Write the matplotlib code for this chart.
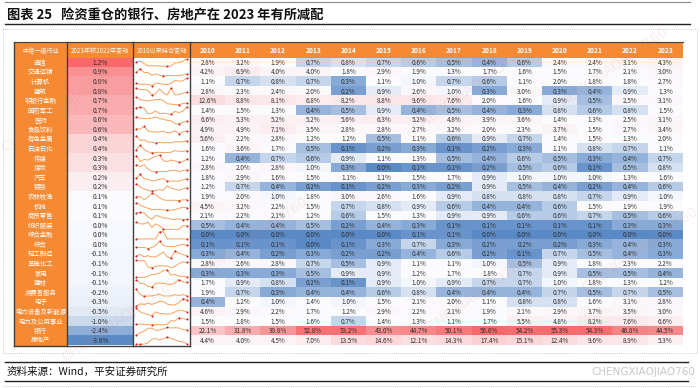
import numpy as np
import matplotlib
matplotlib.use("Agg")
import matplotlib.pyplot as plt
from matplotlib.colors import LinearSegmentedColormap, TwoSlopeNorm

plt.rcParams['font.family'] = ['Noto Sans CJK SC', 'DejaVu Sans']

# ---------------- data ----------------
industries = ["通信", "交通运输", "计算机", "建筑", "非银行金融", "国防军工", "医药", "食品饮料",
              "有色金属", "石油石化", "传媒", "煤炭", "汽车", "钢铁", "农林牧渔", "机械", "商贸零售",
              "纺织服装", "综合金融", "综合", "轻工制造", "基础化工", "家电", "建材", "消费者服务",
              "电子", "电力设备及新能源", "电力及公用事业", "银行", "房地产"]
years = [str(y) for y in range(2010, 2024)]
change_2023 = [1.2, 0.9, 0.8, 0.8, 0.7, 0.7, 0.6, 0.6, 0.4, 0.4, 0.3, 0.3, 0.2, 0.2, 0.1, 0.1, 0.1,
               0.0, 0.0, 0.0, -0.1, -0.1, -0.1, -0.1, -0.2, -0.3, -0.5, -1.0, -2.4, -3.6]
holdings = [
    [2.8, 3.2, 1.9, 0.7, 0.8, 0.7, 0.6, 0.5, 0.4, 0.6, 2.4, 2.4, 3.1, 4.3],
    [4.2, 6.9, 4.0, 4.0, 1.8, 2.9, 1.9, 1.3, 1.7, 1.6, 1.5, 1.7, 2.1, 3.0],
    [1.1, 0.7, 0.8, 0.7, 0.3, 1.1, 1.0, 0.7, 0.6, 1.1, 2.0, 1.8, 1.8, 2.7],
    [2.8, 2.3, 2.4, 2.0, 0.2, 0.9, 2.6, 1.0, 0.3, 3.0, 0.3, 0.4, 0.9, 1.3],
    [12.6, 8.8, 8.1, 6.8, 8.2, 8.8, 9.6, 7.6, 2.0, 1.6, 0.9, 0.5, 2.5, 3.1],
    [1.4, 1.5, 1.3, 0.4, 0.5, 0.9, 0.4, 0.5, 0.4, 0.3, 0.8, 0.6, 0.8, 1.5],
    [6.6, 5.3, 5.2, 5.2, 5.6, 6.3, 5.2, 4.8, 3.9, 3.6, 1.4, 1.3, 2.5, 3.1],
    [4.9, 4.9, 7.1, 3.5, 2.8, 2.8, 2.7, 3.2, 2.0, 2.3, 3.7, 1.5, 2.7, 3.4],
    [5.6, 2.2, 2.8, 1.2, 1.2, 0.5, 1.1, 0.6, 0.9, 0.7, 1.4, 1.5, 1.3, 2.0],
    [1.6, 3.6, 1.7, 0.5, 0.1, 0.2, 0.3, 0.1, 0.2, 0.3, 1.1, 0.8, 0.7, 1.1],
    [1.2, 0.4, 0.7, 0.6, 0.9, 1.1, 1.3, 0.5, 0.4, 0.6, 0.5, 0.3, 0.4, 0.7],
    [2.8, 2.0, 2.8, 1.0, 0.3, 0.0, 0.1, 0.1, 0.2, 0.5, 0.6, 0.1, 0.5, 0.8],
    [1.8, 2.9, 1.6, 1.5, 1.1, 1.1, 1.5, 1.7, 0.9, 1.0, 1.0, 1.0, 1.3, 1.6],
    [1.2, 0.7, 0.4, 0.2, 0.1, 0.2, 0.3, 0.2, 0.9, 0.5, 0.4, 0.2, 0.4, 0.6],
    [1.9, 2.0, 1.0, 1.8, 3.0, 2.6, 1.6, 0.9, 0.8, 0.8, 0.8, 0.7, 0.9, 1.0],
    [4.5, 3.2, 2.2, 1.5, 0.7, 0.8, 0.9, 0.6, 0.4, 0.4, 0.6, 1.5, 1.9, 1.9],
    [2.1, 2.2, 2.1, 1.2, 0.6, 1.5, 1.3, 0.9, 0.9, 0.6, 0.6, 0.7, 0.5, 0.6],
    [0.5, 0.4, 0.4, 0.5, 0.2, 0.4, 0.3, 0.1, 0.1, 0.1, 0.1, 0.1, 0.3, 0.3],
    [0.0, 0.0, 0.0, 0.0, 0.0, 0.0, 0.1, 0.1, 0.0, 0.0, 0.0, 0.0, 0.0, 0.0],
    [0.1, 0.1, 0.1, 0.0, 0.1, 0.3, 0.7, 0.3, 0.2, 0.2, 0.2, 0.3, 0.4, 0.3],
    [0.3, 0.4, 0.2, 0.3, 0.2, 0.2, 0.4, 0.6, 0.2, 0.1, 0.7, 0.5, 0.4, 0.3],
    [2.8, 2.6, 2.8, 0.7, 0.5, 0.9, 1.1, 1.1, 1.0, 0.5, 0.9, 1.8, 2.3, 2.2],
    [0.3, 0.3, 0.3, 0.5, 0.9, 0.9, 1.2, 1.7, 1.8, 0.7, 0.9, 0.5, 0.5, 0.4],
    [1.7, 0.9, 0.8, 0.2, 0.1, 0.9, 1.0, 0.9, 0.7, 0.7, 1.0, 1.8, 1.3, 1.2],
    [1.9, 0.7, 0.3, 0.4, 0.4, 0.6, 0.8, 0.4, 0.4, 0.4, 0.7, 0.5, 0.7, 0.5],
    [0.4, 1.2, 1.0, 1.4, 1.0, 1.5, 2.1, 2.0, 1.1, 0.8, 0.8, 1.6, 3.1, 2.8],
    [4.6, 2.9, 2.2, 1.7, 1.2, 2.9, 2.2, 2.1, 1.9, 2.1, 2.9, 3.7, 3.5, 3.0],
    [1.5, 1.8, 1.5, 1.6, 0.7, 1.4, 1.3, 1.1, 1.7, 5.5, 4.8, 8.2, 7.6, 6.6],
    [22.1, 31.8, 39.8, 52.8, 53.2, 43.0, 44.7, 50.1, 56.6, 54.2, 55.3, 54.3, 46.8, 44.5],
    [4.4, 4.0, 4.5, 7.0, 13.5, 14.6, 12.1, 14.3, 17.4, 15.1, 12.4, 9.6, 8.9, 5.3],
]
header_labels = ["中信一级行业", "2023年较2022年变动", "2010以来持仓变动"]
title = "图表 25   险资重仓的银行、房地产在 2023 年有所减配"
source = "资料来源：Wind，平安证券研究所"

# ---------------- style ----------------
ORANGE = "#F58A33"
BORDER = "#3F3F3F"
TXT = "#303030"
cmap = LinearSegmentedColormap.from_list("rwb", ["#5A8AC6", "#FCFCFF", "#F8696B"])

W, H = 700, 388
fig = plt.figure(figsize=(7, 3.88), dpi=100)
fig.patch.set_facecolor("white")


def add_ax(x0, y0, x1, y1, **kw):
    return fig.add_axes([x0 / W, 1 - y1 / H, (x1 - x0) / W, (y1 - y0) / H], **kw)


# layout (pixels)
X_C1, X_C2, X_C3, X_Y0, X_Y1 = 14, 67, 133, 190, 683
Y_H0, Y_H1, Y_B = 42, 58, 345.5
n = len(industries)
vals = np.array(holdings)
chg = np.array(change_2023)

# base axes (page)
base = add_ax(0, 0, W, H)
base.set_xlim(0, W)
base.set_ylim(H, 0)
base.axis("off")
base.text(7, 15, title, fontsize=9.5, fontweight="bold", va="center", ha="left", color="#111111")
base.plot([5, 690], [24, 24], color="#222222", lw=1.0)
base.plot([5, 690], [1.5, 1.5], color="#888888", lw=0.8)
base.plot([3, 3, 697, 697, 3], [29, 353, 353, 29, 29], color="#BBBBBB", lw=0.6, ls=(0, (1, 1.5)))
base.plot([3, 697], [386, 386], color="#BBBBBB", lw=0.6, ls=(0, (1, 1.5)))
base.plot([5, 688], [362, 362], color="#222222", lw=1.0)
base.plot([5, 688], [381, 381], color="#222222", lw=1.0)
base.text(7, 371.5, source, fontsize=7.6, style="italic", va="center", ha="left", color="#111111")
base.text(695, 372, "CHENGXIAOJIAO760", fontsize=7.5, va="center", ha="right", color="#C8C8C8",
          family="DejaVu Sans")

# year heatmap
norm_y = TwoSlopeNorm(vmin=vals.min(), vcenter=np.percentile(vals, 50), vmax=vals.max())
ax_y = add_ax(X_Y0, Y_H1, X_Y1, Y_B)
ax_y.imshow(vals, cmap=cmap, norm=norm_y, aspect="auto", interpolation="nearest")
for i in range(n):
    for j in range(len(years)):
        ax_y.text(j, i, f"{vals[i, j]:.1f}%", ha="center", va="center", fontsize=4.6, color=TXT)
ax_y.axis("off")

# year header
ax_hy = add_ax(X_Y0, Y_H0, X_Y1, Y_H1)
ax_hy.set_xlim(-0.5, len(years) - 0.5)
ax_hy.set_ylim(0, 1)
ax_hy.set_facecolor(ORANGE)
for j, y in enumerate(years):
    ax_hy.text(j, 0.45, y, ha="center", va="center", fontsize=4.8, fontweight="bold", color="white")
ax_hy.set_xticks([]); ax_hy.set_yticks([])
for s in ax_hy.spines.values():
    s.set_visible(False)

# left header
ax_hl = add_ax(X_C1, Y_H0, X_Y0, Y_H1)
ax_hl.set_xlim(X_C1, X_Y0)
ax_hl.set_ylim(0, 1)
ax_hl.set_facecolor(ORANGE)
for lab, (a, b) in zip(header_labels, [(X_C1, X_C2), (X_C2, X_C3), (X_C3, X_Y0)]):
    ax_hl.text((a + b) / 2, 0.45, lab, ha="center", va="center", fontsize=4.4, color="white")
ax_hl.set_xticks([]); ax_hl.set_yticks([])
for s in ax_hl.spines.values():
    s.set_visible(False)

# col1 names
ax_c1 = add_ax(X_C1, Y_H1, X_C2, Y_B)
ax_c1.set_xlim(0, 1)
ax_c1.set_ylim(n - 0.5, -0.5)
ax_c1.set_facecolor(ORANGE)
for i, name in enumerate(industries):
    ax_c1.text(0.5, i, name, ha="center", va="center", fontsize=4.6, color="white")
ax_c1.set_xticks([]); ax_c1.set_yticks([])
for s in ax_c1.spines.values():
    s.set_visible(False)

# col2 change
norm_c = TwoSlopeNorm(vmin=chg.min(), vcenter=np.median(chg), vmax=chg.max())
ax_c2 = add_ax(X_C2, Y_H1, X_C3, Y_B)
ax_c2.imshow(chg.reshape(-1, 1), cmap=cmap, norm=norm_c, aspect="auto", interpolation="nearest")
for i, v in enumerate(chg):
    ax_c2.text(0, i, f"{v:.1f}%", ha="center", va="center", fontsize=4.8, color=TXT)
ax_c2.axis("off")

# col3 sparklines
ax_sp = add_ax(X_C3, Y_H1, X_Y0, Y_B)
ax_sp.set_xlim(-0.9, len(years) - 0.1)
ax_sp.set_ylim(n - 0.5, -0.5)
xs = np.arange(len(years))
for i in range(n):
    r = vals[i]
    span = r.max() - r.min() if r.max() > r.min() else 1.0
    yy = i + 0.38 - 0.76 * (r - r.min()) / span
    ax_sp.plot(xs, yy, color="#F5A25E", lw=0.7, solid_capstyle="round")
    for k in sorted({0, len(r) - 1, int(np.argmax(r)), int(np.argmin(r))}):
        ax_sp.plot(xs[k], yy[k], "o", ms=1.5, color="#D0202A", mec="none")
ax_sp.axis("off")

# overlay borders + watermarks
ov = add_ax(0, 0, W, H)
ov.set_xlim(0, W)
ov.set_ylim(H, 0)
ov.axis("off")
ov.patch.set_alpha(0)
for x in [X_C1, X_C2, X_C3, X_Y0]:
    ov.plot([x, x], [Y_H0, Y_B], color=BORDER, lw=1.0)
ov.plot([X_C1, X_Y1], [Y_H0, Y_H0], color=BORDER, lw=0.8)
ov.plot([X_C1, X_Y0], [Y_B, Y_B], color=BORDER, lw=1.0)
for (wx, wy) in [(60, 110), (250, 240), (470, 90), (610, 70), (640, 250), (470, 300), (120, 320)]:
    ov.text(wx, wy, "CHENGXIAOJIAO760", rotation=35, fontsize=10, color="#E07070", alpha=0.12,
            ha="center", va="center", family="DejaVu Sans")

fig.savefig("out.png", dpi=100, facecolor="white")
